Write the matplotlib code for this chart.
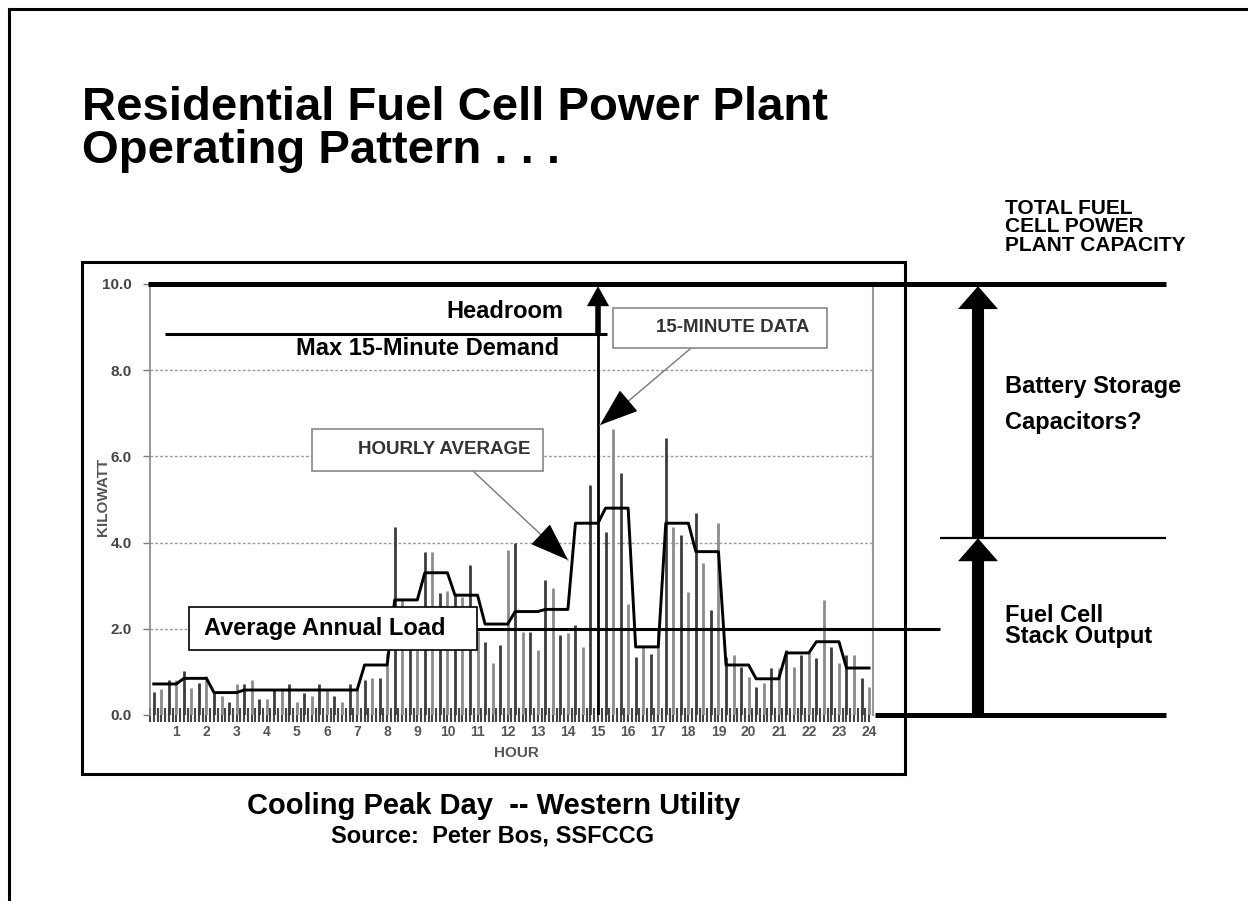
import numpy as np
import matplotlib
matplotlib.use("Agg")
import matplotlib.pyplot as plt
import matplotlib.transforms as mtransforms
from matplotlib.patches import Rectangle
from matplotlib.lines import Line2D

plt.rcParams['font.family'] = ['Liberation Sans', 'DejaVu Sans']
plt.rcParams['font.weight'] = 'bold'

# 15-minute demand, kW (one value per quarter hour, hour 0.25 .. 24.0)
quarter_kw = [
    0.54, 0.60, 0.81, 0.81,  1.03, 0.62, 0.74, 0.90,
    0.50, 0.43, 0.31, 0.72,  0.72, 0.81, 0.37, 0.37,
    0.60, 0.60, 0.72, 0.31,  0.50, 0.43, 0.72, 0.60,
    0.43, 0.31, 0.72, 0.66,  0.81, 0.86, 0.86, 1.43,
    4.37, 2.67, 1.90, 1.50,  3.79, 3.79, 2.83, 2.88,
    2.83, 2.74, 3.48, 1.95,  1.70, 1.20, 1.62, 3.83,
    3.99, 1.93, 1.93, 1.50,  3.13, 2.94, 1.86, 1.90,
    2.09, 1.58, 5.33, 8.85,  4.25, 6.63, 5.62, 2.57,
    1.35, 1.58, 1.41, 2.00,  6.42, 4.37, 4.18, 2.86,
    4.68, 3.52, 2.44, 4.46,  1.35, 1.39, 1.12, 0.89,
    0.66, 0.75, 1.09, 1.09,  1.50, 1.12, 1.39, 1.45,
    1.32, 2.67, 1.58, 1.21,  1.39, 1.39, 0.86, 0.66,
]
# hourly average, kW
hourly_kw = [0.72, 0.85, 0.52, 0.58, 0.58, 0.58, 0.58, 1.16,
             2.67, 3.30, 2.78, 2.11, 2.40, 2.45, 4.45, 4.80,
             1.58, 4.45, 3.79, 1.16, 0.84, 1.44, 1.70, 1.09]
capacity_kw = 10.0
stack_kw = 4.1
annual_avg_kw = 2.0
hour_labels = [str(h) for h in range(1, 25)]
kw_ticks = [0, 2, 4, 6, 8, 10]

quarter_hours = np.arange(1, len(quarter_kw) + 1) / 4.0
max_kw = max(quarter_kw)

W, H = 1248, 901
fig = plt.figure(figsize=(W / 100, H / 100), dpi=100)
# slide layout coordinates: pixels from the top-left corner
px = mtransforms.Affine2D().scale(1 / W, -1 / H).translate(0, 1) + fig.transFigure

ax = fig.add_axes([150 / W, 1 - 715 / H, 723 / W, 431 / H])
ax.set_xlim(0.133, 24.13)
ax.set_ylim(0, 10)
bt = mtransforms.blended_transform_factory(px, ax.transData)

# 15 minute bars + hourly average line
bar_colors = ['#3c3c3c' if i % 2 == 0 else '#8c8c8c' for i in range(len(quarter_kw))]
bar_colors[quarter_kw.index(max_kw)] = '#000000'
ax.vlines(quarter_hours, 0, quarter_kw, colors=bar_colors, lw=2.0, zorder=2)
ax.plot(quarter_hours, np.repeat(hourly_kw, 4), color='black', lw=2.1, zorder=3)

# axes styling
ax.set_yticks(kw_ticks)
ax.set_yticklabels([f'{v:.1f}' for v in kw_ticks])
ax.set_xticks(range(1, 25))
ax.set_xticklabels(hour_labels)
ax.set_xticks(np.arange(0.125, 24.1, 0.125), minor=True)
ax.tick_params(axis='y', length=5, width=1, color='#777', pad=8,
               labelsize=11, labelcolor='#444')
ax.tick_params(axis='x', which='both', direction='inout', length=10, width=1.5,
               color='#444', pad=2, labelsize=10, labelcolor='#555')
ax.yaxis.grid(True, ls=(0, (2, 1.5)), color='#999', lw=1)
ax.set_axisbelow(True)
for s in ['top', 'bottom']:
    ax.spines[s].set_visible(False)
ax.spines['left'].set_color('#888')
ax.spines['left'].set_linewidth(1.2)
ax.spines['right'].set_color('#999')
ax.spines['right'].set_linewidth(1.5)

ax.text(103, 497, 'KILOWATT', transform=px, rotation=90, ha='center', va='center',
        fontsize=11, color='#555')
ax.text(516, 753, 'HOUR', transform=px, ha='center', va='center',
        fontsize=11, color='#555')

# chart frame
ax.add_patch(Rectangle((82, 262), 823, 512, transform=px, fill=False, ec='black',
                       lw=2.2, clip_on=False, zorder=1))

# call-out boxes of the chart
def callout(x0, y0, x1, y1, text, tx, fs, ec, tc):
    ax.add_patch(Rectangle((x0, y0), x1 - x0, y1 - y0, transform=px, fc='white',
                           ec=ec, lw=1.2, clip_on=False, zorder=6))
    ax.text(tx, (y0 + y1) / 2, text, transform=px, ha='center', va='center',
            fontsize=fs, color=tc, zorder=7)

callout(613, 308, 827, 348, '15-MINUTE DATA', 733, 13.5, '#888', '#333')
callout(312, 429, 543, 471, 'HOURLY AVERAGE', 444, 13.5, '#888', '#333')
callout(189, 607, 477, 650, 'Average Annual Load', 325, 17, 'black', 'black')

def pointer(x0, y0, x1, y1):
    ax.plot([x0, x1], [y0, y1], transform=px, color='#777', lw=1, clip_on=False, zorder=4)
    d = np.hypot(x1 - x0, y1 - y0)
    bx, by = x1 - (x1 - x0) / d * 36, y1 - (y1 - y0) / d * 36
    ax.annotate('', xy=(x1, y1), xytext=(bx, by), xycoords=px, textcoords=px,
                arrowprops=dict(arrowstyle='-|>,head_length=2.5,head_width=0.9',
                                mutation_scale=10, color='black', lw=1,
                                shrinkA=0, shrinkB=0), annotation_clip=False, zorder=5)

pointer(690, 349, 600, 425)
pointer(473, 471, 568, 560)

# capacity / demand / load levels
line_kw = dict(transform=bt, color='black', clip_on=False, solid_capstyle='butt', zorder=8)
ax.plot([148, 1166], [capacity_kw] * 2, lw=3.6, **line_kw)
ax.plot([165, 607], [max_kw] * 2, lw=2.2, **line_kw)
ax.plot([477, 940], [annual_avg_kw] * 2, lw=2.2, **line_kw)
ax.plot([940, 1166], [stack_kw] * 2, lw=1.6, **line_kw)
ax.plot([875, 1166], [0, 0], lw=3.6, **line_kw)

big = dict(arrowstyle='simple,head_length=0.55,head_width=0.96,tail_width=0.29',
           mutation_scale=30, fc='black', ec='black', lw=0, shrinkA=0, shrinkB=0)
ax.annotate('', xy=(978, stack_kw), xytext=(978, 0), xycoords=bt, textcoords=bt,
            arrowprops=big, annotation_clip=False)
ax.annotate('', xy=(978, capacity_kw - 0.05), xytext=(978, stack_kw), xycoords=bt,
            textcoords=bt, arrowprops=big, annotation_clip=False)
ax.annotate('', xy=(15.0, capacity_kw - 0.05), xytext=(15.0, max_kw),
            arrowprops=dict(arrowstyle='simple,head_length=0.9,head_width=1.0,tail_width=0.25',
                            mutation_scale=16, fc='black', ec='black', lw=0,
                            shrinkA=0, shrinkB=0),
            annotation_clip=False, zorder=9)

# slide texts
def label(x, y, s, fs, ha='left'):
    ax.text(x, y, s, transform=px, ha=ha, va='baseline', fontsize=fs,
            color='black', zorder=10)

label(563, 318, 'Headroom', 17, ha='right')
label(559, 355, 'Max 15-Minute Demand', 17, ha='right')
label(1005, 214, 'TOTAL FUEL', 15)
label(1005, 232, 'CELL POWER', 15)
label(1005, 251, 'PLANT CAPACITY', 15)
label(1005, 393, 'Battery Storage', 17)
label(1005, 429, 'Capacitors?', 17)
label(1005, 622, 'Fuel Cell', 17)
label(1005, 643, 'Stack Output', 17)

label(82, 120, 'Residential Fuel Cell Power Plant', 34)
label(82, 163, 'Operating Pattern . . .', 34)
label(247, 814, 'Cooling Peak Day  -- Western Utility', 21)
label(331, 843, 'Source:  Peter Bos, SSFCCG', 17)

# slide border
fig.add_artist(Line2D([9, W], [9, 9], transform=px, color='black', lw=2.2))
fig.add_artist(Line2D([9, 9], [9, H], transform=px, color='black', lw=2.2))

fig.savefig('out.png', dpi=100)
